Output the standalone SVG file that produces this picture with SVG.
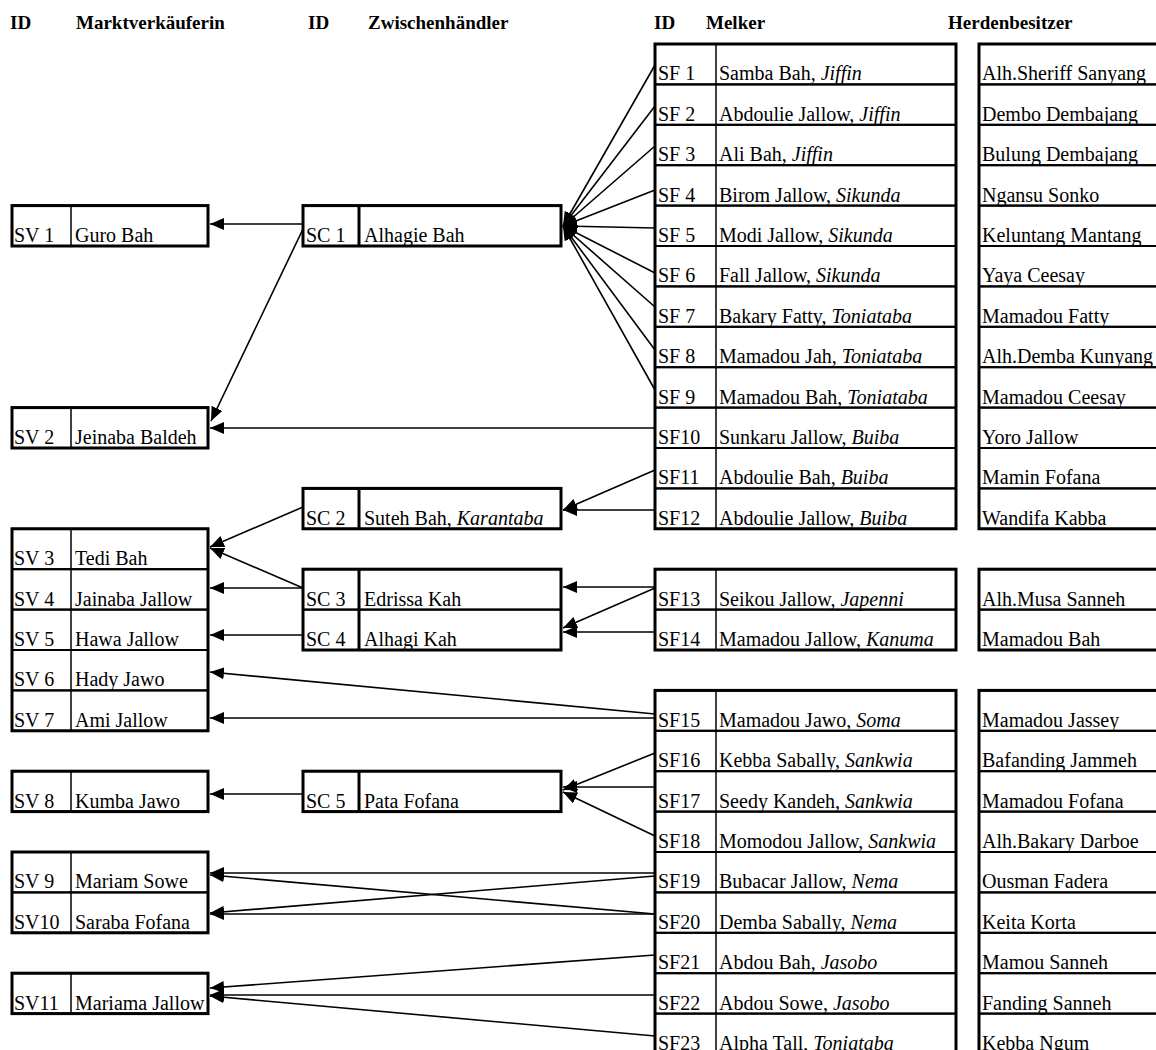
<svg xmlns="http://www.w3.org/2000/svg" width="1156" height="1050" viewBox="0 0 1156 1050">
<style>
text{font-family:"Liberation Serif","Times New Roman",serif;font-size:20px;fill:#000}
.h{font-weight:bold;font-size:19px}
.i{font-style:italic}
.cell{fill:none;stroke:#000;stroke-width:2}
.div{stroke:#000;stroke-width:1.5}
.divt{stroke:#000;stroke-width:3}
.frame{fill:none;stroke:#000;stroke-width:3}
.con line{stroke:#000;stroke-width:1.6;marker-end:url(#ah)}
</style>
<defs>
<marker id="ah" markerUnits="userSpaceOnUse" markerWidth="14" markerHeight="12" refX="14" refY="6" orient="auto">
<path d="M0,0 L14,6 L0,12 z" fill="#000"/>
</marker>
</defs>
<rect width="1156" height="1050" fill="#fff"/>
<g id="headers">
<text class="h" x="10" y="29">ID</text>
<text class="h" x="76" y="29">Marktverkäuferin</text>
<text class="h" x="308" y="29">ID</text>
<text class="h" x="368" y="29">Zwischenhändler</text>
<text class="h" x="654" y="29">ID</text>
<text class="h" x="706" y="29">Melker</text>
<text class="h" x="948" y="29">Herdenbesitzer</text>
</g>
<!-- Marktverkaeuferin -->
<g id="SV1"><rect class="cell" x="12" y="205.6" width="196" height="40.4"/><line class="div" x1="71" y1="205.6" x2="71" y2="246"/><text x="14" y="242">SV 1</text><text x="75" y="242">Guro Bah</text></g>
<g id="SV2"><rect class="cell" x="12" y="407.6" width="196" height="40.4"/><line class="div" x1="71" y1="407.6" x2="71" y2="448"/><text x="14" y="444">SV 2</text><text x="75" y="444">Jeinaba Baldeh</text></g>
<g id="SV3"><rect class="cell" x="12" y="528.8" width="196" height="40.4"/><line class="div" x1="71" y1="528.8" x2="71" y2="569.2"/><text x="14" y="565.2">SV 3</text><text x="75" y="565.2">Tedi Bah</text></g>
<g id="SV4"><rect class="cell" x="12" y="569.2" width="196" height="40.4"/><line class="div" x1="71" y1="569.2" x2="71" y2="609.6"/><text x="14" y="605.6">SV 4</text><text x="75" y="605.6">Jainaba Jallow</text></g>
<g id="SV5"><rect class="cell" x="12" y="609.6" width="196" height="40.4"/><line class="div" x1="71" y1="609.6" x2="71" y2="650"/><text x="14" y="646">SV 5</text><text x="75" y="646">Hawa Jallow</text></g>
<g id="SV6"><rect class="cell" x="12" y="650" width="196" height="40.4"/><line class="div" x1="71" y1="650" x2="71" y2="690.4"/><text x="14" y="686.4">SV 6</text><text x="75" y="686.4">Hady Jawo</text></g>
<g id="SV7"><rect class="cell" x="12" y="690.4" width="196" height="40.4"/><line class="div" x1="71" y1="690.4" x2="71" y2="730.8"/><text x="14" y="726.8">SV 7</text><text x="75" y="726.8">Ami Jallow</text></g>
<g id="SV8"><rect class="cell" x="12" y="771.2" width="196" height="40.4"/><line class="div" x1="71" y1="771.2" x2="71" y2="811.6"/><text x="14" y="807.6">SV 8</text><text x="75" y="807.6">Kumba Jawo</text></g>
<g id="SV9"><rect class="cell" x="12" y="852" width="196" height="40.4"/><line class="div" x1="71" y1="852" x2="71" y2="892.4"/><text x="14" y="888.4">SV 9</text><text x="75" y="888.4">Mariam Sowe</text></g>
<g id="SV10"><rect class="cell" x="12" y="892.4" width="196" height="40.4"/><line class="div" x1="71" y1="892.4" x2="71" y2="932.8"/><text x="14" y="928.8">SV10</text><text x="75" y="928.8">Saraba Fofana</text></g>
<g id="SV11"><rect class="cell" x="12" y="973.2" width="196" height="40.4"/><line class="div" x1="71" y1="973.2" x2="71" y2="1013.6"/><text x="14" y="1009.6">SV11</text><text x="75" y="1009.6">Mariama Jallow</text></g>
<!-- Zwischenhaendler -->
<g id="SC1"><rect class="cell" x="303" y="205.6" width="258" height="40.4"/><line class="divt" x1="359" y1="205.6" x2="359" y2="246"/><text x="306" y="242">SC 1</text><text x="364" y="242">Alhagie Bah</text></g>
<g id="SC2"><rect class="cell" x="303" y="488.4" width="258" height="40.4"/><line class="divt" x1="359" y1="488.4" x2="359" y2="528.8"/><text x="306" y="524.8">SC 2</text><text x="364" y="524.8">Suteh Bah, <tspan class="i">Karantaba</tspan></text></g>
<g id="SC3"><rect class="cell" x="303" y="569.2" width="258" height="40.4"/><line class="divt" x1="359" y1="569.2" x2="359" y2="609.6"/><text x="306" y="605.6">SC 3</text><text x="364" y="605.6">Edrissa Kah</text></g>
<g id="SC4"><rect class="cell" x="303" y="609.6" width="258" height="40.4"/><line class="divt" x1="359" y1="609.6" x2="359" y2="650"/><text x="306" y="646">SC 4</text><text x="364" y="646">Alhagi Kah</text></g>
<g id="SC5"><rect class="cell" x="303" y="771.2" width="258" height="40.4"/><line class="divt" x1="359" y1="771.2" x2="359" y2="811.6"/><text x="306" y="807.6">SC 5</text><text x="364" y="807.6">Pata Fofana</text></g>
<!-- Melker -->
<g id="SF1"><rect class="cell" x="655" y="44" width="301" height="40.4"/><line class="div" x1="716" y1="44" x2="716" y2="84.4"/><text x="658" y="80.4">SF 1</text><text x="719" y="80.4">Samba Bah, <tspan class="i">Jiffin</tspan></text></g>
<g id="SF2"><rect class="cell" x="655" y="84.4" width="301" height="40.4"/><line class="div" x1="716" y1="84.4" x2="716" y2="124.8"/><text x="658" y="120.8">SF 2</text><text x="719" y="120.8">Abdoulie Jallow, <tspan class="i">Jiffin</tspan></text></g>
<g id="SF3"><rect class="cell" x="655" y="124.8" width="301" height="40.4"/><line class="div" x1="716" y1="124.8" x2="716" y2="165.2"/><text x="658" y="161.2">SF 3</text><text x="719" y="161.2">Ali Bah, <tspan class="i">Jiffin</tspan></text></g>
<g id="SF4"><rect class="cell" x="655" y="165.2" width="301" height="40.4"/><line class="div" x1="716" y1="165.2" x2="716" y2="205.6"/><text x="658" y="201.6">SF 4</text><text x="719" y="201.6">Birom Jallow, <tspan class="i">Sikunda</tspan></text></g>
<g id="SF5"><rect class="cell" x="655" y="205.6" width="301" height="40.4"/><line class="div" x1="716" y1="205.6" x2="716" y2="246"/><text x="658" y="242">SF 5</text><text x="719" y="242">Modi Jallow, <tspan class="i">Sikunda</tspan></text></g>
<g id="SF6"><rect class="cell" x="655" y="246" width="301" height="40.4"/><line class="div" x1="716" y1="246" x2="716" y2="286.4"/><text x="658" y="282.4">SF 6</text><text x="719" y="282.4">Fall Jallow, <tspan class="i">Sikunda</tspan></text></g>
<g id="SF7"><rect class="cell" x="655" y="286.4" width="301" height="40.4"/><line class="div" x1="716" y1="286.4" x2="716" y2="326.8"/><text x="658" y="322.8">SF 7</text><text x="719" y="322.8">Bakary Fatty, <tspan class="i">Toniataba</tspan></text></g>
<g id="SF8"><rect class="cell" x="655" y="326.8" width="301" height="40.4"/><line class="div" x1="716" y1="326.8" x2="716" y2="367.2"/><text x="658" y="363.2">SF 8</text><text x="719" y="363.2">Mamadou Jah, <tspan class="i">Toniataba</tspan></text></g>
<g id="SF9"><rect class="cell" x="655" y="367.2" width="301" height="40.4"/><line class="div" x1="716" y1="367.2" x2="716" y2="407.6"/><text x="658" y="403.6">SF 9</text><text x="719" y="403.6">Mamadou Bah, <tspan class="i">Toniataba</tspan></text></g>
<g id="SF10"><rect class="cell" x="655" y="407.6" width="301" height="40.4"/><line class="div" x1="716" y1="407.6" x2="716" y2="448"/><text x="658" y="444">SF10</text><text x="719" y="444">Sunkaru Jallow, <tspan class="i">Buiba</tspan></text></g>
<g id="SF11"><rect class="cell" x="655" y="448" width="301" height="40.4"/><line class="div" x1="716" y1="448" x2="716" y2="488.4"/><text x="658" y="484.4">SF11</text><text x="719" y="484.4">Abdoulie Bah, <tspan class="i">Buiba</tspan></text></g>
<g id="SF12"><rect class="cell" x="655" y="488.4" width="301" height="40.4"/><line class="div" x1="716" y1="488.4" x2="716" y2="528.8"/><text x="658" y="524.8">SF12</text><text x="719" y="524.8">Abdoulie Jallow, <tspan class="i">Buiba</tspan></text></g>
<g id="SF13"><rect class="cell" x="655" y="569.2" width="301" height="40.4"/><line class="div" x1="716" y1="569.2" x2="716" y2="609.6"/><text x="658" y="605.6">SF13</text><text x="719" y="605.6">Seikou Jallow, <tspan class="i">Japenni</tspan></text></g>
<g id="SF14"><rect class="cell" x="655" y="609.6" width="301" height="40.4"/><line class="div" x1="716" y1="609.6" x2="716" y2="650"/><text x="658" y="646">SF14</text><text x="719" y="646">Mamadou Jallow, <tspan class="i">Kanuma</tspan></text></g>
<g id="SF15"><rect class="cell" x="655" y="690.4" width="301" height="40.4"/><line class="div" x1="716" y1="690.4" x2="716" y2="730.8"/><text x="658" y="726.8">SF15</text><text x="719" y="726.8">Mamadou Jawo, <tspan class="i">Soma</tspan></text></g>
<g id="SF16"><rect class="cell" x="655" y="730.8" width="301" height="40.4"/><line class="div" x1="716" y1="730.8" x2="716" y2="771.2"/><text x="658" y="767.2">SF16</text><text x="719" y="767.2">Kebba Sabally, <tspan class="i">Sankwia</tspan></text></g>
<g id="SF17"><rect class="cell" x="655" y="771.2" width="301" height="40.4"/><line class="div" x1="716" y1="771.2" x2="716" y2="811.6"/><text x="658" y="807.6">SF17</text><text x="719" y="807.6">Seedy Kandeh, <tspan class="i">Sankwia</tspan></text></g>
<g id="SF18"><rect class="cell" x="655" y="811.6" width="301" height="40.4"/><line class="div" x1="716" y1="811.6" x2="716" y2="852"/><text x="658" y="848">SF18</text><text x="719" y="848">Momodou Jallow, <tspan class="i">Sankwia</tspan></text></g>
<g id="SF19"><rect class="cell" x="655" y="852" width="301" height="40.4"/><line class="div" x1="716" y1="852" x2="716" y2="892.4"/><text x="658" y="888.4">SF19</text><text x="719" y="888.4">Bubacar Jallow, <tspan class="i">Nema</tspan></text></g>
<g id="SF20"><rect class="cell" x="655" y="892.4" width="301" height="40.4"/><line class="div" x1="716" y1="892.4" x2="716" y2="932.8"/><text x="658" y="928.8">SF20</text><text x="719" y="928.8">Demba Sabally, <tspan class="i">Nema</tspan></text></g>
<g id="SF21"><rect class="cell" x="655" y="932.8" width="301" height="40.4"/><line class="div" x1="716" y1="932.8" x2="716" y2="973.2"/><text x="658" y="969.2">SF21</text><text x="719" y="969.2">Abdou Bah, <tspan class="i">Jasobo</tspan></text></g>
<g id="SF22"><rect class="cell" x="655" y="973.2" width="301" height="40.4"/><line class="div" x1="716" y1="973.2" x2="716" y2="1013.6"/><text x="658" y="1009.6">SF22</text><text x="719" y="1009.6">Abdou Sowe, <tspan class="i">Jasobo</tspan></text></g>
<g id="SF23"><rect class="cell" x="655" y="1013.6" width="301" height="40.4"/><line class="div" x1="716" y1="1013.6" x2="716" y2="1054"/><text x="658" y="1050">SF23</text><text x="719" y="1050">Alpha Tall, <tspan class="i">Toniataba</tspan></text></g>
<!-- Herdenbesitzer -->
<g id="H1"><rect class="cell" x="979" y="44" width="200" height="40.4"/><text x="982" y="80.4">Alh.Sheriff Sanyang</text></g>
<g id="H2"><rect class="cell" x="979" y="84.4" width="200" height="40.4"/><text x="982" y="120.8">Dembo Dembajang</text></g>
<g id="H3"><rect class="cell" x="979" y="124.8" width="200" height="40.4"/><text x="982" y="161.2">Bulung Dembajang</text></g>
<g id="H4"><rect class="cell" x="979" y="165.2" width="200" height="40.4"/><text x="982" y="201.6">Ngansu Sonko</text></g>
<g id="H5"><rect class="cell" x="979" y="205.6" width="200" height="40.4"/><text x="982" y="242">Keluntang Mantang</text></g>
<g id="H6"><rect class="cell" x="979" y="246" width="200" height="40.4"/><text x="982" y="282.4">Yaya Ceesay</text></g>
<g id="H7"><rect class="cell" x="979" y="286.4" width="200" height="40.4"/><text x="982" y="322.8">Mamadou Fatty</text></g>
<g id="H8"><rect class="cell" x="979" y="326.8" width="200" height="40.4"/><text x="982" y="363.2">Alh.Demba Kunyang</text></g>
<g id="H9"><rect class="cell" x="979" y="367.2" width="200" height="40.4"/><text x="982" y="403.6">Mamadou Ceesay</text></g>
<g id="H10"><rect class="cell" x="979" y="407.6" width="200" height="40.4"/><text x="982" y="444">Yoro Jallow</text></g>
<g id="H11"><rect class="cell" x="979" y="448" width="200" height="40.4"/><text x="982" y="484.4">Mamin Fofana</text></g>
<g id="H12"><rect class="cell" x="979" y="488.4" width="200" height="40.4"/><text x="982" y="524.8">Wandifa Kabba</text></g>
<g id="H13"><rect class="cell" x="979" y="569.2" width="200" height="40.4"/><text x="982" y="605.6">Alh.Musa Sanneh</text></g>
<g id="H14"><rect class="cell" x="979" y="609.6" width="200" height="40.4"/><text x="982" y="646">Mamadou Bah</text></g>
<g id="H15"><rect class="cell" x="979" y="690.4" width="200" height="40.4"/><text x="982" y="726.8">Mamadou Jassey</text></g>
<g id="H16"><rect class="cell" x="979" y="730.8" width="200" height="40.4"/><text x="982" y="767.2">Bafanding Jammeh</text></g>
<g id="H17"><rect class="cell" x="979" y="771.2" width="200" height="40.4"/><text x="982" y="807.6">Mamadou Fofana</text></g>
<g id="H18"><rect class="cell" x="979" y="811.6" width="200" height="40.4"/><text x="982" y="848">Alh.Bakary Darboe</text></g>
<g id="H19"><rect class="cell" x="979" y="852" width="200" height="40.4"/><text x="982" y="888.4">Ousman Fadera</text></g>
<g id="H20"><rect class="cell" x="979" y="892.4" width="200" height="40.4"/><text x="982" y="928.8">Keita Korta</text></g>
<g id="H21"><rect class="cell" x="979" y="932.8" width="200" height="40.4"/><text x="982" y="969.2">Mamou Sanneh</text></g>
<g id="H22"><rect class="cell" x="979" y="973.2" width="200" height="40.4"/><text x="982" y="1009.6">Fanding Sanneh</text></g>
<g id="H23"><rect class="cell" x="979" y="1013.6" width="200" height="40.4"/><text x="982" y="1050">Kebba Ngum</text></g>
<g id="frames">
<rect class="frame" x="12" y="205.6" width="196" height="40.4"/>
<rect class="frame" x="12" y="407.6" width="196" height="40.4"/>
<rect class="frame" x="12" y="528.8" width="196" height="202"/>
<rect class="frame" x="12" y="771.2" width="196" height="40.4"/>
<rect class="frame" x="12" y="852" width="196" height="80.8"/>
<rect class="frame" x="12" y="973.2" width="196" height="40.4"/>
<rect class="frame" x="303" y="205.6" width="258" height="40.4"/>
<rect class="frame" x="303" y="488.4" width="258" height="40.4"/>
<rect class="frame" x="303" y="569.2" width="258" height="80.8"/>
<rect class="frame" x="303" y="771.2" width="258" height="40.4"/>
<rect class="frame" x="655" y="44" width="301" height="484.8"/>
<rect class="frame" x="655" y="569.2" width="301" height="80.8"/>
<rect class="frame" x="655" y="690.4" width="301" height="370"/>
<rect class="frame" x="979" y="44" width="200" height="484.8"/>
<rect class="frame" x="979" y="569.2" width="200" height="80.8"/>
<rect class="frame" x="979" y="690.4" width="200" height="370"/>
</g>
<g id="connectors" class="con">
<line x1="655" y1="65" x2="563" y2="226"/>
<line x1="655" y1="106" x2="563" y2="226"/>
<line x1="655" y1="146" x2="563" y2="226"/>
<line x1="655" y1="190" x2="563" y2="226"/>
<line x1="655" y1="228" x2="563" y2="226"/>
<line x1="655" y1="273" x2="563" y2="226"/>
<line x1="655" y1="307" x2="563" y2="226"/>
<line x1="655" y1="350" x2="563" y2="226"/>
<line x1="655" y1="390" x2="563" y2="226"/>
<line x1="303" y1="224" x2="210" y2="224"/>
<line x1="303" y1="229" x2="211" y2="421"/>
<line x1="655" y1="428" x2="210" y2="428"/>
<line x1="655" y1="470" x2="563" y2="510"/>
<line x1="655" y1="510" x2="563" y2="510"/>
<line x1="303" y1="507" x2="210" y2="547"/>
<line x1="303" y1="588" x2="210" y2="548"/>
<line x1="303" y1="588" x2="210" y2="588"/>
<line x1="655" y1="587" x2="563" y2="587"/>
<line x1="655" y1="588" x2="563" y2="628"/>
<line x1="655" y1="632" x2="563" y2="632"/>
<line x1="303" y1="635" x2="210" y2="635"/>
<line x1="655" y1="714" x2="210" y2="672"/>
<line x1="655" y1="718" x2="210" y2="718"/>
<line x1="655" y1="753" x2="563" y2="790"/>
<line x1="655" y1="787" x2="563" y2="787"/>
<line x1="655" y1="836" x2="563" y2="792"/>
<line x1="303" y1="794" x2="210" y2="794"/>
<line x1="655" y1="873" x2="210" y2="873"/>
<line x1="655" y1="876" x2="210" y2="913"/>
<line x1="655" y1="914" x2="210" y2="875"/>
<line x1="655" y1="914" x2="210" y2="914"/>
<line x1="655" y1="955" x2="210" y2="988"/>
<line x1="655" y1="995" x2="210" y2="995"/>
<line x1="655" y1="1036" x2="210" y2="996"/>
</g>
</svg>
